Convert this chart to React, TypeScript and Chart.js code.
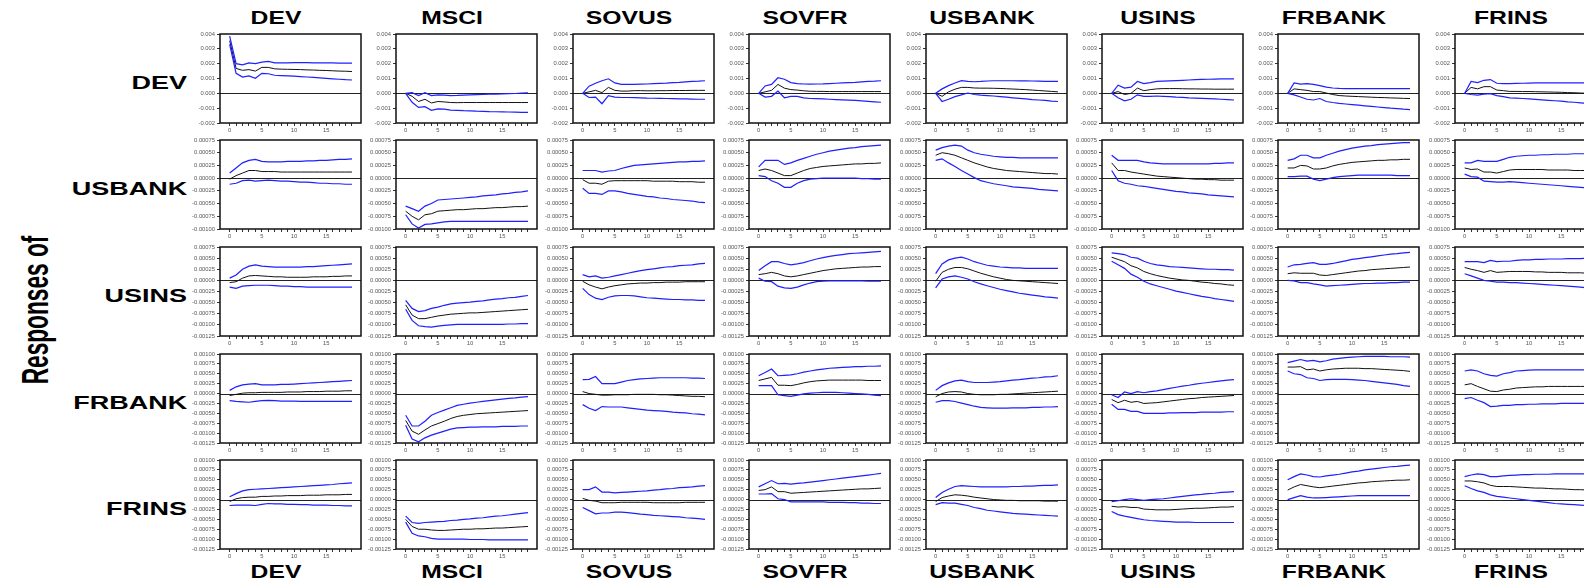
import React, { useEffect, useRef } from "react";
import { Chart, registerables } from "chart.js";

Chart.register(...registerables);

// Horizon (periods after the shock)
const HORIZON = [0, 1, 2, 3, 4, 5, 6, 7, 8, 9, 10, 11, 12, 13, 14, 15, 16, 17, 18, 19];

// Shocks (columns) and responding variables (rows)
const IMPULSES = ["DEV", "MSCI", "SOVUS", "SOVFR", "USBANK", "USINS", "FRBANK", "FRINS"];
const RESPONSES = ["DEV", "USBANK", "USINS", "FRBANK", "FRINS"];

// Value axis per response row
const Y_MIN = [-0.002, -0.001, -0.00125, -0.00125, -0.00125];
const Y_MAX = [0.004, 0.00075, 0.00075, 0.001, 0.001];
const Y_STEP = [0.001, 0.00025, 0.00025, 0.00025, 0.00025];
const Y_DECIMALS = [3, 5, 5, 5, 5];

// All responses below are stored in units of 1e-5
const UNIT = 1e-5;

// ---- Responses of DEV ----
const devMid = [
  [355, 168, 155, 160, 150, 175, 175, 165, 163, 162, 161, 160, 158, 157, 155, 154, 152, 150, 149, 147],
  [0, -20, -55, -40, -65, -55, -58, -62, -63, -62, -62, -62, -62, -62, -62, -62, -62, -62, -62, -62],
  [0, 10, 20, 5, 40, 20, 15, 15, 18, 18, 17, 17, 18, 18, 19, 19, 19, 20, 20, 20],
  [0, 10, 20, 60, 35, 25, 22, 17, 14, 13, 13, 12, 12, 12, 12, 12, 12, 12, 12, 12],
  [0, -20, 10, 28, 40, 40, 36, 35, 35, 34, 33, 31, 29, 27, 25, 22, 19, 16, 13, 10],
  [0, 12, -8, 0, 35, 18, 25, 30, 32, 32, 32, 31, 30, 30, 29, 29, 28, 28, 28, 28],
  [0, 30, 25, 20, 12, 12, 2, -8, -15, -18, -20, -22, -24, -26, -28, -29, -31, -32, -34, -35],
  [0, 40, 30, 45, 45, 22, 18, 13, 13, 12, 12, 11, 10, 9, 8, 7, 5, 4, 2, 1],
];
const devUp = [
  [385, 200, 192, 205, 200, 210, 215, 205, 205, 206, 207, 207, 207, 206, 206, 205, 205, 204, 204, 203],
  [0, 5, -15, 5, -15, -10, -12, -15, -14, -12, -10, -9, -8, -6, -5, -4, -2, -1, 1, 3],
  [0, 48, 68, 85, 98, 70, 60, 60, 61, 62, 63, 65, 67, 69, 72, 74, 77, 80, 82, 85],
  [0, 50, 60, 105, 95, 72, 66, 63, 62, 63, 64, 66, 68, 70, 72, 74, 77, 80, 82, 85],
  [0, 30, 52, 70, 86, 80, 78, 80, 83, 85, 85, 85, 85, 84, 84, 83, 82, 81, 80, 80],
  [0, 55, 35, 42, 80, 65, 72, 80, 82, 84, 86, 88, 90, 92, 94, 95, 96, 97, 98, 98],
  [0, 70, 62, 65, 60, 52, 42, 36, 33, 32, 32, 32, 32, 32, 32, 32, 32, 32, 32, 32],
  [0, 80, 72, 88, 93, 68, 66, 66, 67, 68, 69, 70, 70, 71, 71, 71, 71, 71, 71, 71],
];
const devLo = [
  [330, 135, 110, 118, 102, 135, 132, 122, 120, 118, 116, 113, 110, 107, 104, 101, 98, 95, 92, 90],
  [0, -60, -95, -90, -115, -105, -107, -113, -115, -117, -118, -120, -121, -123, -124, -125, -126, -127, -128, -129],
  [0, -28, -25, -70, -15, -25, -28, -28, -29, -30, -32, -33, -34, -35, -36, -37, -38, -39, -40, -40],
  [0, -25, -20, 15, -30, -20, -20, -30, -35, -36, -38, -40, -42, -44, -46, -48, -51, -54, -57, -60],
  [0, -55, -40, -22, -10, 2, -8, -12, -15, -18, -22, -26, -30, -34, -38, -42, -45, -48, -52, -55],
  [0, -30, -50, -40, -10, -20, -20, -18, -20, -22, -25, -27, -30, -32, -34, -36, -38, -40, -42, -45],
  [0, -10, -25, -40, -45, -35, -55, -62, -68, -72, -76, -80, -84, -88, -92, -96, -100, -103, -107, -110],
  [0, -8, -12, -5, -2, -15, -22, -30, -32, -35, -38, -41, -44, -47, -50, -53, -57, -60, -64, -68],
];

// ---- Responses of USBANK ----
const usbankMid = [
  [-2, 5, 10, 15, 15, 13, 13, 13, 12, 12, 12, 12, 12, 12, 12, 12, 12, 12, 12, 12],
  [-65, -75, -82, -72, -70, -65, -64, -63, -62, -62, -61, -60, -60, -59, -58, -58, -57, -56, -56, -55],
  [-3, -10, -10, -12, -6, -5, -5, -5, -5, -5, -5, -6, -6, -6, -6, -7, -7, -7, -8, -8],
  [15, 18, 15, 10, 5, 5, 10, 15, 19, 21, 23, 24, 25, 26, 27, 28, 28, 29, 29, 30],
  [45, 50, 48, 45, 40, 35, 30, 26, 22, 19, 17, 15, 14, 13, 12, 11, 10, 9, 9, 8],
  [30, 15, 15, 12, 10, 8, 6, 4, 3, 2, 1, 0, -1, -2, -2, -3, -3, -4, -4, -4],
  [20, 20, 25, 24, 18, 18, 20, 24, 27, 29, 31, 32, 33, 34, 35, 35, 36, 36, 37, 37],
  [20, 17, 18, 12, 12, 10, 13, 16, 17, 17, 17, 17, 17, 16, 16, 16, 16, 15, 15, 15],
];
const usbankUp = [
  [10, 20, 30, 35, 37, 33, 32, 32, 32, 33, 33, 33, 34, 34, 35, 35, 36, 37, 37, 38],
  [-55, -60, -65, -55, -50, -43, -42, -41, -40, -39, -38, -37, -35, -34, -33, -31, -30, -28, -27, -25],
  [15, 15, 15, 12, 14, 15, 19, 22, 25, 26, 27, 28, 29, 30, 31, 32, 32, 33, 33, 34],
  [22, 35, 35, 35, 27, 30, 35, 39, 43, 47, 50, 53, 55, 57, 59, 60, 62, 63, 64, 65],
  [55, 60, 63, 65, 63, 55, 50, 47, 45, 43, 42, 41, 41, 40, 40, 40, 40, 40, 40, 40],
  [45, 35, 35, 35, 35, 32, 30, 29, 28, 28, 28, 28, 28, 28, 28, 28, 29, 29, 30, 30],
  [35, 38, 45, 45, 40, 40, 45, 49, 53, 56, 59, 61, 63, 64, 66, 67, 68, 69, 70, 70],
  [30, 30, 35, 33, 33, 33, 37, 41, 43, 44, 45, 45, 46, 46, 47, 47, 47, 48, 48, 48],
];
const usbankLo = [
  [-12, -10, -5, -4, -6, -5, -4, -5, -6, -6, -7, -8, -8, -9, -10, -10, -11, -11, -12, -12],
  [-72, -90, -98, -91, -90, -88, -86, -85, -85, -85, -85, -85, -85, -85, -85, -85, -85, -85, -85, -85],
  [-20, -30, -30, -32, -25, -25, -27, -30, -32, -34, -36, -37, -39, -40, -42, -43, -44, -45, -47, -48],
  [5, 3, -5, -10, -18, -18, -10, -5, -2, -1, 0, 0, 0, 0, 0, 0, -1, -1, -2, -2],
  [35, 38, 30, 23, 15, 8, 1, -5, -8, -11, -13, -15, -17, -18, -19, -20, -22, -23, -24, -25],
  [15, -5, -10, -12, -15, -16, -18, -20, -22, -24, -26, -27, -29, -30, -31, -33, -34, -35, -36, -37],
  [3, 3, 4, 4, -2, -5, -2, 1, 3, 4, 5, 6, 6, 6, 6, 6, 6, 5, 5, 5],
  [8, 3, 2, -6, -7, -8, -8, -7, -8, -9, -10, -11, -12, -13, -14, -15, -16, -17, -18, -19],
];

// ---- Responses of USINS ----
const usinsMid = [
  [-5, -3, 5, 10, 11, 10, 9, 8, 8, 7, 7, 7, 7, 8, 8, 8, 9, 9, 10, 10],
  [-55, -78, -86, -86, -83, -80, -78, -76, -75, -74, -73, -73, -72, -71, -70, -69, -68, -67, -66, -65],
  [-2, -10, -15, -19, -15, -12, -10, -8, -7, -6, -6, -5, -5, -4, -4, -4, -3, -3, -3, -3],
  [13, 15, 18, 15, 10, 8, 10, 13, 16, 19, 22, 24, 26, 27, 28, 29, 30, 30, 31, 31],
  [-2, 18, 25, 29, 29, 26, 21, 16, 12, 8, 5, 2, 0, -1, -2, -3, -4, -5, -6, -7],
  [52, 47, 42, 33, 28, 20, 15, 11, 8, 5, 3, 1, 0, -2, -4, -5, -7, -8, -10, -11],
  [15, 17, 16, 16, 16, 12, 11, 13, 15, 17, 19, 21, 22, 24, 25, 26, 27, 28, 29, 30],
  [29, 25, 22, 18, 22, 18, 19, 20, 20, 20, 20, 19, 19, 18, 18, 18, 17, 17, 17, 16],
];
const usinsUp = [
  [5, 12, 25, 32, 35, 32, 31, 30, 30, 30, 30, 30, 31, 31, 32, 33, 34, 35, 36, 37],
  [-45, -63, -70, -68, -63, -60, -56, -53, -51, -50, -49, -47, -46, -44, -42, -41, -39, -38, -36, -34],
  [13, 8, 10, 5, 7, 10, 13, 16, 19, 22, 24, 26, 28, 30, 31, 33, 34, 35, 37, 38],
  [22, 33, 42, 42, 38, 35, 37, 40, 44, 48, 51, 54, 56, 58, 60, 61, 62, 63, 64, 65],
  [15, 37, 46, 50, 52, 48, 42, 38, 34, 32, 30, 29, 28, 28, 27, 27, 27, 27, 27, 27],
  [62, 60, 58, 52, 50, 43, 38, 35, 33, 31, 30, 29, 28, 27, 26, 25, 25, 24, 24, 23],
  [30, 35, 36, 38, 40, 36, 36, 38, 41, 44, 47, 49, 51, 53, 55, 57, 59, 60, 62, 63],
  [42, 42, 42, 40, 45, 42, 43, 43, 45, 46, 46, 47, 47, 48, 48, 48, 49, 49, 49, 50],
];
const usinsLo = [
  [-15, -18, -13, -12, -11, -11, -11, -12, -13, -13, -14, -14, -15, -15, -15, -15, -15, -15, -15, -15],
  [-65, -90, -102, -104, -105, -103, -101, -100, -99, -99, -99, -99, -99, -99, -99, -99, -98, -98, -97, -97],
  [-18, -32, -40, -43, -38, -35, -34, -34, -35, -37, -39, -40, -41, -42, -43, -43, -44, -44, -45, -45],
  [5, -2, -3, -13, -17, -18, -15, -10, -6, -3, -2, -1, -1, -1, -1, -1, -1, -2, -2, -2],
  [-17, 3, 8, 10, 7, 3, -3, -8, -12, -16, -20, -23, -26, -29, -31, -33, -35, -37, -38, -40],
  [43, 35, 27, 14, 7, -2, -8, -12, -16, -20, -24, -27, -30, -33, -36, -38, -41, -43, -45, -47],
  [0, -1, -5, -5, -8, -10, -13, -12, -11, -10, -9, -8, -7, -7, -6, -6, -5, -5, -4, -4],
  [15, 10, 5, 0, -2, -4, -4, -5, -5, -6, -7, -8, -9, -10, -11, -12, -13, -14, -15, -17],
];

// ---- Responses of FRBANK ----
const frbankMid = [
  [-5, -2, 1, 2, 2, 3, 3, 3, 3, 4, 4, 4, 5, 5, 5, 6, 6, 6, 7, 7],
  [-68, -95, -103, -92, -82, -76, -70, -63, -58, -55, -53, -51, -50, -49, -48, -47, -46, -45, -44, -43],
  [5, 0, -2, -4, -4, -3, -3, -3, -2, -2, -2, -2, -3, -3, -4, -5, -6, -7, -7, -8],
  [33, 37, 41, 21, 21, 20, 23, 27, 30, 32, 33, 34, 34, 34, 34, 34, 34, 33, 33, 33],
  [-8, 0, 4, 5, 4, 0, -2, -3, -3, -3, -2, -2, -1, 0, 1, 2, 3, 4, 5, 6],
  [-15, -23, -17, -22, -20, -25, -24, -23, -21, -19, -17, -15, -13, -12, -10, -9, -8, -7, -6, -5],
  [67, 67, 68, 60, 62, 57, 60, 62, 63, 64, 64, 64, 63, 63, 62, 61, 60, 59, 58, 56],
  [22, 25, 18, 12, 6, 5, 9, 11, 14, 15, 16, 17, 17, 18, 18, 18, 18, 18, 18, 18],
];
const frbankUp = [
  [8, 17, 22, 24, 25, 22, 22, 22, 23, 23, 24, 25, 26, 27, 28, 29, 30, 31, 32, 33],
  [-55, -82, -82, -70, -55, -48, -42, -36, -30, -27, -24, -22, -20, -18, -16, -14, -12, -11, -9, -8],
  [35, 36, 43, 25, 25, 25, 29, 33, 35, 37, 38, 39, 40, 40, 40, 40, 40, 39, 39, 38],
  [45, 53, 62, 45, 46, 47, 50, 54, 57, 60, 62, 64, 65, 66, 67, 68, 68, 69, 69, 70],
  [8, 20, 27, 32, 34, 30, 28, 28, 28, 29, 30, 32, 34, 35, 37, 39, 40, 42, 43, 45],
  [-3, -10, 4, 0, 5, 2, 5, 7, 10, 13, 16, 19, 21, 24, 26, 28, 30, 32, 34, 35],
  [78, 82, 86, 82, 84, 80, 83, 87, 89, 91, 92, 93, 94, 94, 94, 94, 93, 93, 93, 92],
  [57, 60, 57, 50, 46, 44, 50, 53, 57, 58, 59, 60, 60, 60, 60, 60, 60, 60, 60, 60],
];
const frbankLo = [
  [-18, -20, -21, -22, -20, -18, -17, -18, -19, -19, -19, -20, -20, -20, -20, -20, -20, -20, -20, -20],
  [-80, -115, -122, -112, -105, -100, -95, -90, -87, -86, -85, -85, -84, -84, -84, -83, -83, -83, -82, -82],
  [-28, -37, -43, -33, -34, -34, -34, -36, -38, -40, -42, -43, -44, -45, -47, -48, -49, -51, -52, -54],
  [20, 20, 20, -3, -5, -7, -4, -1, 1, 2, 3, 3, 3, 2, 1, 0, -1, -2, -4, -5],
  [-22, -18, -18, -20, -24, -28, -32, -35, -36, -37, -37, -37, -36, -36, -36, -35, -35, -34, -34, -33],
  [-27, -40, -40, -45, -45, -50, -50, -50, -50, -49, -49, -48, -48, -48, -47, -47, -47, -47, -46, -46],
  [57, 50, 48, 40, 38, 33, 35, 36, 36, 36, 35, 34, 33, 31, 29, 27, 25, 23, 20, 18],
  [-13, -10, -17, -23, -33, -32, -30, -30, -28, -28, -27, -27, -26, -26, -26, -25, -25, -25, -25, -25],
];

// ---- Responses of FRINS ----
const frinsMid = [
  [-5, 2, 5, 6, 6, 8, 8, 9, 9, 10, 10, 10, 11, 11, 11, 12, 12, 12, 13, 13],
  [-50, -68, -75, -75, -77, -78, -78, -77, -76, -75, -75, -74, -74, -73, -72, -72, -71, -70, -69, -68],
  [3, -2, -4, -8, -8, -8, -7, -7, -7, -7, -7, -8, -8, -8, -8, -8, -7, -7, -7, -7],
  [23, 25, 32, 20, 20, 16, 17, 18, 19, 20, 21, 22, 23, 24, 25, 26, 27, 27, 28, 29],
  [-5, 5, 9, 12, 11, 9, 6, 4, 2, 0, -1, -2, -2, -3, -3, -3, -3, -4, -4, -4],
  [-17, -19, -18, -20, -20, -24, -25, -26, -26, -26, -25, -24, -23, -22, -22, -21, -20, -19, -19, -18],
  [24, 32, 38, 35, 32, 30, 32, 34, 36, 38, 40, 42, 43, 45, 46, 47, 48, 49, 49, 50],
  [47, 47, 45, 42, 36, 33, 33, 33, 32, 31, 30, 29, 29, 28, 27, 27, 26, 25, 25, 24],
];
const frinsUp = [
  [7, 15, 22, 25, 26, 27, 28, 29, 30, 31, 32, 33, 34, 35, 36, 37, 38, 40, 41, 42],
  [-42, -58, -60, -58, -57, -56, -55, -53, -52, -50, -49, -47, -46, -44, -42, -41, -39, -37, -35, -33],
  [25, 25, 32, 19, 19, 17, 18, 19, 20, 21, 22, 24, 25, 27, 28, 30, 31, 32, 34, 35],
  [32, 40, 48, 40, 41, 39, 41, 42, 44, 46, 48, 50, 52, 54, 56, 58, 60, 62, 64, 66],
  [5, 18, 26, 33, 35, 34, 33, 32, 32, 32, 32, 32, 33, 33, 34, 34, 35, 36, 36, 37],
  [-5, -3, 0, 2, 0, -2, 0, 1, 2, 4, 6, 8, 10, 12, 13, 15, 16, 18, 19, 20],
  [50, 58, 65, 62, 58, 57, 60, 62, 64, 67, 70, 72, 75, 77, 79, 81, 83, 84, 86, 87],
  [58, 62, 65, 63, 58, 58, 60, 61, 62, 63, 63, 64, 64, 64, 65, 65, 65, 65, 65, 65],
];
const frinsLo = [
  [-15, -14, -14, -14, -15, -12, -10, -11, -11, -12, -12, -13, -13, -14, -14, -14, -15, -15, -16, -16],
  [-57, -85, -92, -94, -98, -100, -100, -100, -100, -100, -101, -101, -101, -102, -102, -102, -102, -102, -102, -102],
  [-20, -28, -36, -34, -34, -32, -32, -33, -35, -37, -38, -40, -41, -42, -43, -44, -46, -47, -48, -50],
  [14, 14, 15, 2, 0, -6, -6, -6, -6, -6, -6, -7, -7, -7, -8, -8, -9, -9, -10, -10],
  [-13, -8, -9, -9, -12, -15, -20, -23, -27, -29, -31, -33, -35, -36, -37, -38, -39, -40, -41, -42],
  [-30, -38, -42, -45, -48, -51, -53, -54, -55, -56, -57, -57, -57, -58, -58, -58, -58, -58, -58, -58],
  [0, 5, 10, 6, 4, 4, 5, 6, 7, 8, 9, 10, 10, 10, 10, 10, 10, 10, 10, 10],
  [35, 28, 22, 18, 12, 8, 6, 4, 2, 0, -2, -4, -6, -8, -10, -11, -12, -13, -14, -15],
];

const MID_BY_ROW = [devMid, usbankMid, usinsMid, frbankMid, frinsMid];
const UP_BY_ROW = [devUp, usbankUp, usinsUp, frbankUp, frinsUp];
const LO_BY_ROW = [devLo, usbankLo, usinsLo, frbankLo, frinsLo];

// ---- Layout ----
const PAGE_W = 1584;
const PAGE_H = 582;
const PLOT_LEFT0 = 220;
const COL_PITCH = 176.4;
const PLOT_W = 141;
const ROW_TOPS = [34, 140, 247, 354, 460];
const PLOT_H = 89;
const Y_AXIS_W = 38;
const PAD_TOP = 5;
const PAD_RIGHT = 5;
const X_AXIS_H = 14;

const BAND_COLOR = "#1f1fff";
const MID_COLOR = "#111111";
const TICK_COLOR = "#555555";
const TICK_FONT = { family: "'Liberation Sans', Arial, sans-serif", size: 5.8, lineHeight: 1 };
const TITLE_FONT = "'Liberation Sans', Arial, sans-serif";

const plotLeft = (c: number) => Math.round(PLOT_LEFT0 + c * COL_PITCH);

const framePlugin = {
  id: "irfFrame",
  beforeDatasetsDraw(chart: any) {
    const { ctx, chartArea, scales } = chart;
    const y0 = Math.round(scales.y.getPixelForValue(0)) + 0.5;
    ctx.save();
    ctx.strokeStyle = "#222";
    ctx.lineWidth = 1.2;
    ctx.beginPath();
    ctx.moveTo(chartArea.left, y0);
    ctx.lineTo(chartArea.right, y0);
    ctx.stroke();
    ctx.restore();
  },
  afterDraw(chart: any) {
    const { ctx, chartArea } = chart;
    ctx.save();
    ctx.strokeStyle = "#111";
    ctx.lineWidth = 1.5;
    ctx.strokeRect(
      chartArea.left,
      chartArea.top,
      chartArea.right - chartArea.left,
      chartArea.bottom - chartArea.top
    );
    ctx.restore();
  },
};

function Panel({ row, col }: { row: number; col: number }) {
  const ref = useRef<HTMLCanvasElement | null>(null);
  const width = Y_AXIS_W + PLOT_W + PAD_RIGHT;
  const height = PAD_TOP + PLOT_H + X_AXIS_H;

  useEffect(() => {
    if (!ref.current) return;
    const toPoints = (arr: number[]) => arr.map((v, i) => ({ x: HORIZON[i], y: v * UNIT }));
    const line = (arr: number[], color: string, w: number) => ({
      data: toPoints(arr),
      borderColor: color,
      borderWidth: w,
      pointRadius: 0,
      tension: 0,
      fill: false,
    });
    const yMin = Y_MIN[row];
    const yMax = Y_MAX[row];
    const yStep = Y_STEP[row];
    const nTicks = Math.round((yMax - yMin) / yStep);

    const chart = new Chart(ref.current, {
      type: "line",
      data: {
        datasets: [
          line(UP_BY_ROW[row][col], BAND_COLOR, 1.2),
          line(LO_BY_ROW[row][col], BAND_COLOR, 1.2),
          line(MID_BY_ROW[row][col], MID_COLOR, 1),
        ],
      },
      options: {
        responsive: false,
        animation: false,
        devicePixelRatio: 1,
        layout: { padding: { top: PAD_TOP, right: PAD_RIGHT, left: 0, bottom: 0 } },
        plugins: { legend: { display: false }, tooltip: { enabled: false } },
        scales: {
          x: {
            type: "linear",
            min: -1.5,
            max: 20.4,
            afterBuildTicks: (axis: any) => {
              axis.ticks = HORIZON.map((v) => ({ value: v }));
            },
            afterFit: (axis: any) => {
              axis.height = X_AXIS_H;
            },
            ticks: {
              autoSkip: false,
              maxRotation: 0,
              padding: 1,
              color: TICK_COLOR,
              font: TICK_FONT,
              callback: (v: any) => (Number(v) % 5 === 0 ? String(v) : ""),
            },
            grid: { drawOnChartArea: false, drawTicks: true, tickLength: 3, color: "#000", lineWidth: 0.8 },
            border: { display: false },
          },
          y: {
            type: "linear",
            min: yMin,
            max: yMax,
            afterBuildTicks: (axis: any) => {
              const t = [];
              for (let i = 0; i <= nTicks; i++) {
                t.push({ value: Math.round((yMin + i * yStep) * 1e7) / 1e7 });
              }
              axis.ticks = t;
            },
            afterFit: (axis: any) => {
              axis.width = Y_AXIS_W;
            },
            ticks: {
              autoSkip: false,
              padding: 2,
              color: TICK_COLOR,
              font: TICK_FONT,
              callback: (v: any) => Number(v).toFixed(Y_DECIMALS[row]),
            },
            grid: { drawOnChartArea: false, drawTicks: true, tickLength: 3, color: "#000", lineWidth: 0.8 },
            border: { display: false },
          },
        },
      } as any,
      plugins: [framePlugin],
    });
    return () => chart.destroy();
  }, [row, col]);

  return (
    <canvas
      ref={ref}
      width={width}
      height={height}
      style={{
        position: "absolute",
        left: plotLeft(col) - Y_AXIS_W,
        top: ROW_TOPS[row] - PAD_TOP,
        width,
        height,
      }}
    />
  );
}

const titleStyle = (cx: number, cy: number): React.CSSProperties => ({
  position: "absolute",
  left: cx,
  top: cy,
  transform: "translate(-50%, -50%) scaleX(1.3)",
  font: `bold 19px ${TITLE_FONT}`,
  color: "#000",
  whiteSpace: "nowrap",
  lineHeight: "19px",
});

export default function App() {
  const panels = [];
  for (let r = 0; r < RESPONSES.length; r++) {
    for (let c = 0; c < IMPULSES.length; c++) {
      panels.push(<Panel key={`${r}-${c}`} row={r} col={c} />);
    }
  }
  return (
    <div
      style={{
        position: "absolute",
        left: 0,
        top: 0,
        width: PAGE_W,
        height: PAGE_H,
        overflow: "hidden",
        background: "#fff",
      }}
    >
      {IMPULSES.map((name, c) => (
        <div key={`t${c}`} style={titleStyle(plotLeft(c) + 56, 17)}>
          {name}
        </div>
      ))}
      {IMPULSES.map((name, c) => (
        <div key={`b${c}`} style={titleStyle(plotLeft(c) + 56, 571)}>
          {name}
        </div>
      ))}
      {RESPONSES.map((name, r) => (
        <div
          key={`r${r}`}
          style={{
            position: "absolute",
            right: PAGE_W - 187,
            top: ROW_TOPS[r] + PLOT_H / 2 + 3,
            transform: "translateY(-50%) scaleX(1.42)",
            transformOrigin: "right center",
            font: `bold 19px ${TITLE_FONT}`,
            lineHeight: "19px",
            whiteSpace: "nowrap",
          }}
        >
          {name}
        </div>
      ))}
      <div
        style={{
          position: "absolute",
          left: 36,
          top: 310,
          transform: "translate(-50%, -50%) rotate(-90deg) scale(0.63, 1)",
          font: `bold 36px ${TITLE_FONT}`,
          lineHeight: "36px",
          whiteSpace: "nowrap",
        }}
      >
        Responses of
      </div>
      {panels}
    </div>
  );
}
